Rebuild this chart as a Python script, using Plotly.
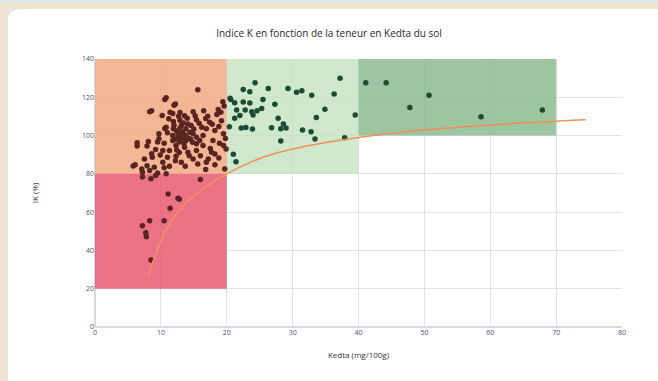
import plotly.graph_objects as go

# Brown points (Kedta < 20)
kedta_a = [15.6,10.8,10.6,12.2,12.0,8.6,8.3,11.4,11.8,12.7,13.6,12.9,14.9,15.4,16.5,17.1,18.7,19.4,19.1,19.6,18.5,17.4,11.9,10.8,10.6,13.1,13.8,14.4,13.3,12.6,14.9,15.4,16.9,18.2,19.5,9.7,9.7,9.5,11.8,13.8,15.4,17.9,6.4,8.1,6.4,7.9,12.3,13.6,16.4,19.5,19.9,9.2,10.3,11.3,12.4,14.1,15.4,17.7,8.7,11.0,12.3,14.9,17.2,18.2,16.0,10.3,13.1,6.1,5.8,7.9,9.0,11.3,13.7,15.6,18.2,7.2,8.3,7.1,9.5,10.8,16.8,7.2,8.5,9.2,16.0,19.7,12.6,13.2,14.1,14.6,13.4,11.9,16.4,15.9,11.8,12.4,12.9,13.0,13.7,14.0,14.5,12.1,12.8,13.5,14.8,15.0,15.8,16.8,11.2,10.2,12.0,11.0,10.5,12.9,14.0,15.2,16.2,17.8,18.8,19.2,19.8,18.9,17.5,18.8,16.9,14.3,9.9,8.6,7.5,10.5,12.2,12.8,8.5,7.2,8.3,7.7,7.8,10.5,11.1,11.4,12.8,12.6]
ik_a = [124,119.7,118.9,116.5,115.9,113,112.4,112.2,111.5,110.1,110.4,112.0,112.5,108.3,113,110.1,113.6,117.7,112.2,115.5,111.0,107,107.3,104.3,103.7,105.2,103.5,101.7,101.7,100.9,100.9,99.1,103.5,102.6,100.9,100.9,98.3,96.6,97.4,97.4,95.7,97.4,96.2,96.9,94.6,94.6,94.8,93.9,94.8,94.8,93.0,92.7,92.2,92.2,92.5,91.3,92.2,91.3,88.7,88.7,89.2,87.8,87.8,90.4,89.5,86.1,86.1,84.7,84.1,84.3,83.5,84.0,84.0,85.2,84.7,80.9,81.7,82.5,80.5,80.0,82.3,78.3,77.4,79.1,77.0,82.6,99.1,98.6,106.1,105.2,106.6,103.5,100.0,97.4,100.0,102.4,103.8,101.0,100.2,99.0,98.2,98.0,96.6,95.8,96.5,103.4,106.5,108.9,108.8,110.5,105.4,101.5,96.0,108.0,109.0,110.3,104.4,105.9,104.8,107.8,98.5,96.0,93.2,88.3,86.0,89.5,89.8,90.5,87.8,83.2,86.8,91.2,35,52.9,55.5,49.3,47.2,55.5,69.5,62.0,66.8,67.3]

# Green points (Kedta >= 20)
kedta_b = [20.6,20.5,22.5,23.5,24.3,26.3,29.3,30.6,31.4,32.9,37.2,36.3,21.2,22.5,23.5,21.5,22.8,23.8,24.6,25.3,25.5,27.3,21.2,20.4,22.2,22.9,23.9,26.8,27.8,28.2,28.6,29.0,28.2,31.5,32.8,33.4,33.6,34.9,37.9,39.5,21.0,21.4,22.0,24.0,41.1,44.2,47.8,50.7,58.6,67.9]
ik_b = [118.9,119.5,124.1,122.9,127.6,124.6,124.6,122.6,123.4,121.1,129.9,121.7,117.1,117.5,117.0,113.3,113.3,112.4,113.0,114.2,118.9,116.4,109.0,104.6,104.0,104.2,103.4,104.1,109.0,103.5,106.0,104.0,97.1,102.9,102.0,98.2,109.5,113.7,98.9,110.7,90.2,86.3,110.5,110.8,127.6,127.6,114.7,121.1,109.8,113.3]

# Trend curve
trend_x = [8, 9, 10, 11, 12, 15, 20, 25, 30, 40, 50, 60, 70, 74.5]
trend_y = [26, 36, 45, 52, 57.5, 68.5, 80, 88, 93, 99, 103, 105.5, 107.5, 108.2]

# Zones
zone_x0 = [0, 0, 20, 40]
zone_x1 = [20, 20, 40, 70]
zone_y0 = [80, 20, 80, 100]
zone_y1 = [140, 80, 140, 140]
zone_col = ["rgba(242,170,132,0.85)", "rgba(232,84,106,0.82)",
            "rgba(196,226,190,0.8)", "rgba(132,182,136,0.8)"]

x_ticks = [0, 10, 20, 30, 40, 50, 60, 70, 80]
y_ticks = [0, 20, 40, 60, 80, 100, 120, 140]

fig = go.Figure()

fig.add_trace(go.Scatter(x=kedta_a, y=ik_a, mode="markers",
                         marker=dict(color="#5a2520", size=5.5), showlegend=False))
fig.add_trace(go.Scatter(x=kedta_b, y=ik_b, mode="markers",
                         marker=dict(color="#1d4a35", size=5.5), showlegend=False))
fig.add_trace(go.Scatter(x=trend_x, y=trend_y, mode="lines", line_shape="spline",
                         line=dict(color="#f0915a", width=1.5), showlegend=False))

shapes = []
# card background
shapes.append(dict(type="path", xref="paper", yref="paper",
                   path="M -0.165,1.15 Q -0.165,1.187 -0.135,1.187 L 1.2,1.187 L 1.2,-0.25 L -0.165,-0.25 Z",
                   fillcolor="white", line=dict(width=0), layer="below"))
# thin light strip at the very top
shapes.append(dict(type="rect", xref="paper", yref="paper", x0=-0.2, x1=1.2,
                   y0=1.2145, y1=1.23, fillcolor="#d6eef0", line=dict(width=0), layer="below"))
for x0, x1, y0, y1, c in zip(zone_x0, zone_x1, zone_y0, zone_y1, zone_col):
    shapes.append(dict(type="rect", xref="x", yref="y", x0=x0, x1=x1, y0=y0, y1=y1,
                       fillcolor=c, line=dict(width=0), layer="between"))

fig.update_layout(
    width=658, height=381,
    margin=dict(l=95, r=36, t=59, b=54),
    paper_bgcolor="#efe4d2",
    plot_bgcolor="white",
    shapes=shapes,
    font=dict(family="Open Sans", color="#444"),
    title=dict(text="Indice K en fonction de la teneur en Kedta du sol",
               x=0.5, xanchor="center", y=0.913, yanchor="middle",
               font=dict(size=10, color="#2a2a2a")),
    xaxis=dict(range=[0, 80], tickvals=x_ticks, showgrid=True, gridcolor="#dfe2ea",
               zeroline=True, zerolinecolor="#d6d9e2", tickfont=dict(size=7, color="#4a5170"),
               title=dict(text="Kedta (mg/100g)", font=dict(size=8, color="#333"), standoff=16),
               fixedrange=True),
    yaxis=dict(range=[0, 140], tickvals=y_ticks, showgrid=True, gridcolor="#dfe2ea",
               zeroline=True, zerolinecolor="#d6d9e2", tickfont=dict(size=7, color="#4a5170"),
               title=dict(text="IK (%)", font=dict(size=8, color="#333"), standoff=42),
               fixedrange=True),
)

fig.write_html("out.html", config={"displayModeBar": False})
